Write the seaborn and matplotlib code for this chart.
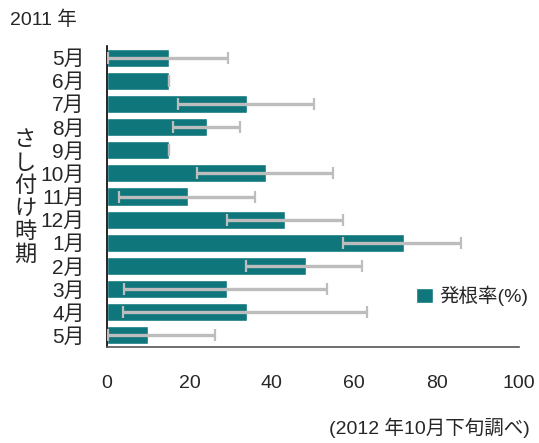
import numpy as np
import pandas as pd
import matplotlib
matplotlib.use("Agg")
import matplotlib.pyplot as plt
import seaborn as sns
from matplotlib import font_manager
from matplotlib.patches import Patch

# ---------------------------------------------
# data
# ---------------------------------------------
months = ["5月", "6月", "7月", "8月", "9月", "10月", "11月", "12月",
          "1月", "2月", "3月", "4月", "5月"]
keys = ["2011-05", "2011-06", "2011-07", "2011-08", "2011-09", "2011-10",
        "2011-11", "2011-12", "2012-01", "2012-02", "2012-03", "2012-04",
        "2012-05"]
rate = [15, 15, 34, 24.3, 15, 38.7, 19.7, 43.2, 72, 48.2, 29.2, 34, 10]
err_low = [0.3, 15, 17.2, 15.9, 15, 21.9, 2.9, 29.1, 57.3, 33.8, 4.1, 3.9, 0.2]
err_high = [29.4, 15, 50.2, 32.4, 15, 54.9, 35.9, 57.2, 85.9, 61.9, 53.4, 63, 26.2]

bar_color = "#0f777c"

available = {f.name for f in font_manager.fontManager.ttflist}
narrow = "Liberation Sans Narrow" if "Liberation Sans Narrow" in available else "Liberation Sans"

sns.set_style("white")
plt.rcParams["font.family"] = [narrow, "Noto Sans CJK JP", "DejaVu Sans"]

df = pd.DataFrame({"key": keys, "rate": rate})

fig = plt.figure(figsize=(5.39, 4.43), dpi=100)
ax = fig.add_axes([107 / 539, 1 - 347 / 443, 412 / 539, 301 / 443])

sns.barplot(data=df, x="rate", y="key", order=keys, color=bar_color,
            saturation=1, width=0.78, ax=ax, errorbar=None)

pos = np.arange(len(keys))
lo = np.array(rate) - np.array(err_low)
hi = np.array(err_high) - np.array(rate)
ax.errorbar(rate, pos, xerr=[lo, hi], fmt="none", ecolor="#bdbdbd",
            elinewidth=2.4, capsize=4, capthick=1.6, zorder=3)

ax.set_xlim(0, 100)
ax.set_ylim(len(keys) - 0.5, -0.5)
ax.set_xticks([0, 20, 40, 60, 80, 100])
ax.set_yticks(pos)
ax.set_yticklabels(months, fontsize=15, family=[narrow, "Noto Sans CJK JP"])
ax.set_yticks(np.arange(len(keys)) - 0.5, minor=True)
ax.tick_params(axis="y", which="major", length=0, pad=16)
ax.tick_params(axis="y", which="minor", direction="inout", length=16, width=1.2, color="black")
ax.tick_params(axis="x", direction="inout", length=14, width=1.2, color="#444444",
               labelsize=14, pad=13)
ax.set_xlabel("")
ax.set_ylabel("")

for s in ["top", "right"]:
    ax.spines[s].set_visible(False)
ax.spines["left"].set_color("black")
ax.spines["left"].set_linewidth(1.2)
ax.spines["bottom"].set_color("#555555")
ax.spines["bottom"].set_linewidth(1.2)

# vertical axis title, stacked characters
fig.text(25 / 539, 1 - 197 / 443, "\n".join("さし付け時期"), ha="center", va="center",
         fontsize=16, family=["Noto Sans CJK JP"], linespacing=1.0)
fig.text(10 / 539, 1 - 20 / 443, "2011 年", ha="left", va="center", fontsize=14,
         family=[narrow, "Noto Sans CJK JP"])
fig.text(530 / 539, 1 - 428 / 443, "(2012 年10月下旬調べ)", ha="right", va="center",
         fontsize=14, family=[narrow, "Noto Sans CJK JP"])

ax.legend(handles=[Patch(facecolor=bar_color, label="発根率(%)")],
          loc="center left", bbox_to_anchor=((416 - 107) / 412, 1 - (296 - 46) / 301),
          frameon=False, handlelength=0.85, handleheight=0.85,
          handletextpad=0.35, borderpad=0, borderaxespad=0,
          prop={"family": [narrow, "Noto Sans CJK JP"], "size": 14})

fig.savefig("out.png", dpi=100)
